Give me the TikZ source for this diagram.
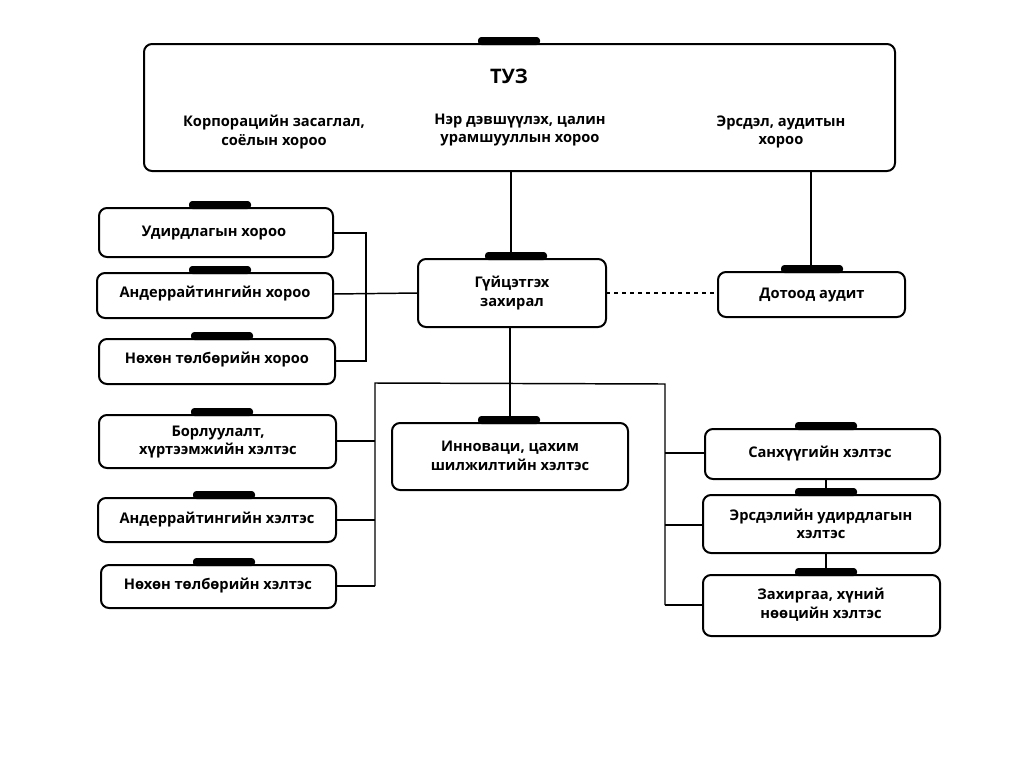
\documentclass[tikz,border=0pt]{standalone}
\usepackage{fontspec}
\setmainfont{Open Sans}
\begin{document}
\begin{tikzpicture}[x=0.75pt,y=-0.75pt,
 box/.style={draw=black,line width=1.5pt,rounded corners=6pt},
 lbl/.style={font=\bfseries\fontsize{11}{14}\selectfont,align=center},
 ln/.style={line width=1.1pt},
 tab/.style={fill=black,rounded corners=2.5pt}]
\useasboundingbox (0,0) rectangle (1024,768);
\newcommand{\bx}[6]{% name, x1,y1,x2,y2, tabx
 \draw[box] (#2,#3) rectangle (#4,#5);
 \coordinate (#1-nw) at (#2,#3); \coordinate (#1-se) at (#4,#5);
 \fill[tab] (#6-31,#3-7) rectangle (#6+31,#3+1);}
\bx{tuz}{144}{44}{895}{171}{509}
\node[lbl,font=\bfseries\fontsize{15}{18}\selectfont] (t0) at (509,76) {ТУЗ};
\node[lbl] (t1) at (274,132) {Корпорацийн засаглал,\\соёлын хороо};
\node[lbl] (t2) at (520,130) {Нэр дэвшүүлэх, цалин\\урамшууллын хороо};
\node[lbl] (t3) at (781,132) {Эрсдэл, аудитын\\хороо};
\bx{a1}{99}{208}{333}{257}{220}
\node[lbl] (n1) at (214,233) {Удирдлагын хороо};
\bx{a2}{97}{273}{333}{318}{220}
\node[lbl] (n2) at (215,294) {Андеррайтингийн хороо};
\bx{a3}{99}{339}{335}{384}{222}
\node[lbl] (n3) at (217,360) {Нөхөн төлбөрийн хороо};
\bx{gz}{418}{259}{606}{327}{516}
\node[lbl] (gz) at (512,293) {Гүйцэтгэх\\захирал};
\bx{da}{718}{272}{905}{317}{812}
\node[lbl] (da) at (812,295) {Дотоод аудит};
\bx{b1}{99}{415}{336}{468}{222}
\node[lbl] (m1) at (218,442) {Борлуулалт,\\хүртээмжийн хэлтэс};
\bx{b2}{98}{498}{336}{542}{224}
\node[lbl] (m2) at (217,520) {Андеррайтингийн хэлтэс};
\bx{b3}{101}{565}{336}{608}{224}
\node[lbl] (m3) at (218,586) {Нөхөн төлбөрийн хэлтэс};
\bx{in}{392}{423}{628}{490}{509}
\node[lbl] (in) at (510,456) {Инноваци, цахим\\шилжилтийн хэлтэс};
\bx{c1}{705}{429}{940}{479}{826}
\node[lbl] (k1) at (820,454) {Санхүүгийн хэлтэс};
\bx{c2}{703}{495}{940}{553}{826}
\node[lbl] (k2) at (821,524) {Эрсдэлийн удирдлагын\\хэлтэс};
\bx{c3}{703}{575}{940}{636}{826}
\node[lbl] (k3) at (821,605) {Захиргаа, хүний\\нөөцийн хэлтэс};
\draw[ln] (511,171) -- (511,259);
\draw[ln] (811,171) -- (811,272);
\draw[ln] (333,233) -- (366,233) -- (366,361) -- (335,361);
\draw[ln] (333,294) -- (418,293);
\draw[ln,dashed] (606,293) -- (718,293);
\draw[ln] (510,327) -- (510,423);
\draw[ln] (375,586) -- (375,383) -- (665,384) -- (665,605);
\draw[ln] (336,441) -- (375,441);
\draw[ln] (336,520) -- (375,520);
\draw[ln] (336,586) -- (375,586);
\draw[ln] (665,453) -- (705,453);
\draw[ln] (665,525) -- (703,525);
\draw[ln] (665,605) -- (703,605);
\draw[ln] (826,479) -- (826,495);
\draw[ln] (826,553) -- (826,575);
\end{tikzpicture}
\end{document}
